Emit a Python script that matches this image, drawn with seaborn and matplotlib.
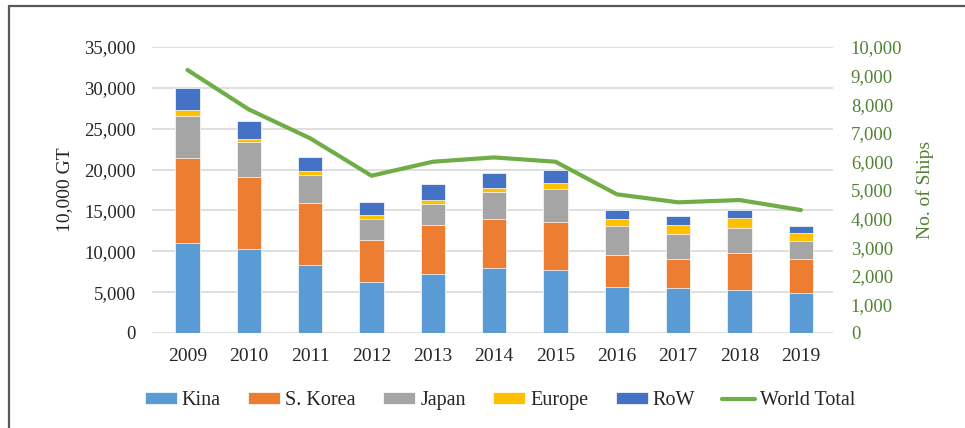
import numpy as np
import pandas as pd
import seaborn as sns
import matplotlib
matplotlib.use("Agg")
import matplotlib.pyplot as plt
from matplotlib.lines import Line2D
from matplotlib.ticker import FuncFormatter, MultipleLocator

# data (10,000 GT per region, no. of ships in total)
years = ["2009", "2010", "2011", "2012", "2013", "2014", "2015", "2016", "2017", "2018", "2019"]
kina = [11000, 10250, 8300, 6200, 7200, 7900, 7650, 5650, 5550, 5300, 4900]
korea = [10450, 8850, 7600, 5200, 6050, 6100, 5950, 3850, 3550, 4500, 4100]
japan = [5150, 4300, 3400, 2600, 2550, 3250, 4000, 3650, 3000, 3100, 2200]
europe = [700, 400, 500, 400, 450, 550, 700, 750, 1100, 1150, 1100]
row = [2700, 2200, 1800, 1600, 1950, 1800, 1700, 1200, 1100, 950, 800]
world_ships = [9200, 7820, 6810, 5500, 5990, 6140, 5990, 4850, 4570, 4650, 4300]

regions = ["Kina", "S. Korea", "Japan", "Europe", "RoW"]
colors = ["#5B9BD5", "#ED7D31", "#A5A5A5", "#FFC000", "#4472C4"]
line_color = "#70AD47"
green_text = "#538135"

df = pd.DataFrame({"year": years, "Kina": kina, "S. Korea": korea,
                   "Japan": japan, "Europe": europe, "RoW": row})
cum = df[regions].cumsum(axis=1)

sns.set_style("white")
plt.rcParams["font.family"] = ["Liberation Serif", "DejaVu Serif"]
plt.rcParams["font.size"] = 13

fig = plt.figure(figsize=(9.65, 4.28), dpi=100)
ax = fig.add_axes([0.158, 0.222, 0.705, 0.668])

# stacked bars: draw cumulative totals from the top layer down
for name, c in reversed(list(zip(regions, colors))):
    sns.barplot(x=df["year"], y=cum[name], color=c, width=0.4, saturation=1,
                edgecolor="white", linewidth=0.5, label=name, ax=ax)

ax2 = ax.twinx()
sns.lineplot(x=np.arange(len(years)), y=world_ships, color=line_color, lw=3,
             label="World Total", ax=ax2)

ax.set_ylim(0, 35000)
ax.yaxis.set_major_locator(MultipleLocator(5000))
ax2.set_ylim(0, 10000)
ax2.yaxis.set_major_locator(MultipleLocator(1000))
ax.set_xlim(-0.57, 10.52)

fmt = FuncFormatter(lambda v, p: f"{int(v):,}")
ax.yaxis.set_major_formatter(fmt)
ax2.yaxis.set_major_formatter(fmt)

ax.grid(axis="y", color="#D9D9D9", lw=1.2)
ax.set_axisbelow(True)
for a in (ax, ax2):
    for s in a.spines.values():
        s.set_visible(False)
    a.tick_params(length=0)
ax.tick_params(axis="y", pad=12, labelsize=13.5, colors="#262626")
ax.tick_params(axis="x", pad=11, labelsize=14, colors="#262626")
ax2.tick_params(axis="y", pad=13, labelsize=13.5, colors=green_text)

ax.set_xlabel("")
ax.set_ylabel("10,000 GT", fontsize=14, color="#262626", labelpad=8)
ax2.set_ylabel("No. of Ships", fontsize=14, color=green_text, labelpad=10)

h1, l1 = ax.get_legend_handles_labels()
h2, l2 = ax2.get_legend_handles_labels()
for a in (ax, ax2):
    if a.get_legend() is not None:
        a.get_legend().remove()
handles = list(reversed(h1)) + h2
labels = list(reversed(l1)) + l2
fig.legend(handles, labels, loc="center", bbox_to_anchor=(0.518, 0.064), ncol=6,
           frameon=False, fontsize=14.5, handlelength=1.6, handleheight=0.55,
           handletextpad=0.25, columnspacing=1.35)

# outer frame (top and left edge visible in the reference)
fig.add_artist(Line2D([0.0095, 1.0], [0.985, 0.985], transform=fig.transFigure,
                      color="#595959", lw=1.6))
fig.add_artist(Line2D([0.0095, 0.0095], [0.0, 0.985], transform=fig.transFigure,
                      color="#595959", lw=1.6))

fig.savefig("out.png", dpi=100)
